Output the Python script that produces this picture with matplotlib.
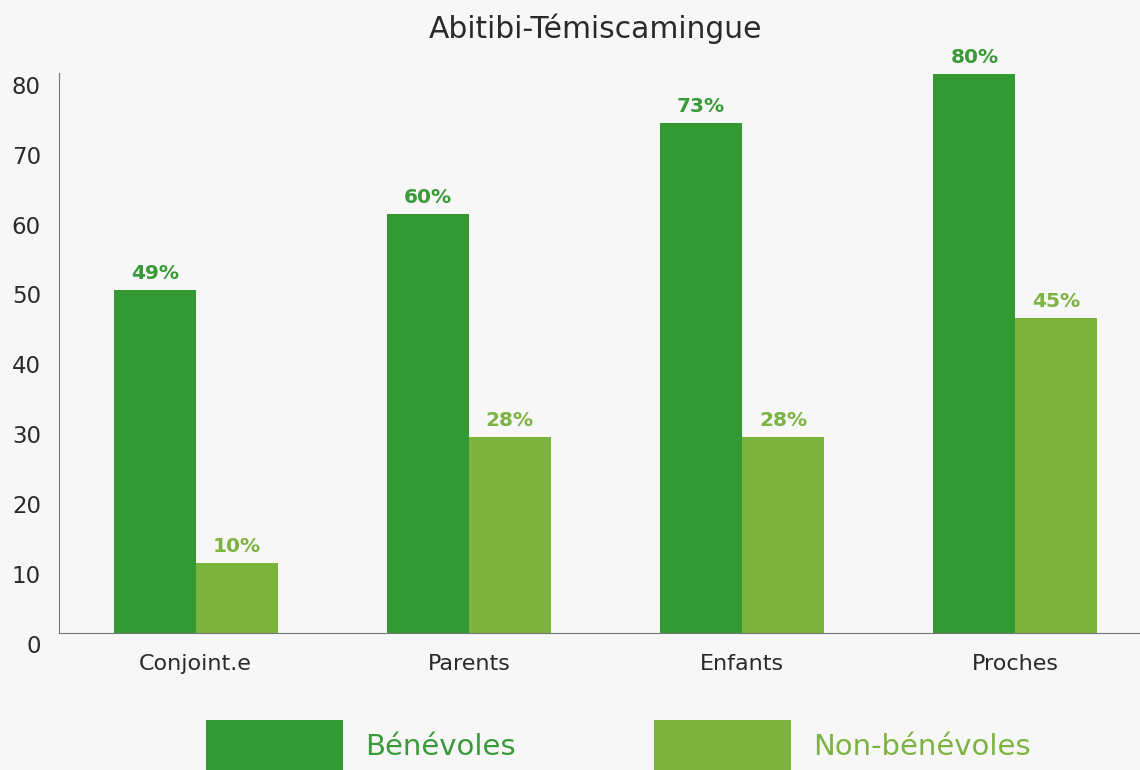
import matplotlib
matplotlib.use("Agg")
from matplotlib import pyplot as plt
from matplotlib.transforms import ScaledTranslation
import numpy as np

categories = ["Conjoint.e", "Parents", "Enfants", "Proches"]
benevoles = [49, 60, 73, 80]
non_benevoles = [10, 28, 28, 45]
series_names = ["Bénévoles", "Non-bénévoles"]
yticks = [0, 10, 20, 30, 40, 50, 60, 70, 80]

dark = "#339933"
light = "#7cb33d"
bg = "#f7f7f7"

plt.rcParams["font.family"] = ["DejaVu Sans"]

fig = plt.figure(figsize=(11.4, 7.7), dpi=100, facecolor=bg)
ax = fig.add_axes([59 / 1140, 137 / 770, 1093 / 1140, 560 / 770], facecolor=bg)

x = np.arange(len(categories))
w = 0.3
b1 = ax.bar(x - w / 2, benevoles, w, color=dark, label=series_names[0])
b2 = ax.bar(x + w / 2, non_benevoles, w, color=light, label=series_names[1])

# etiquettes de valeur au-dessus des barres
ax.bar_label(b1, labels=[f"{v}%" for v in benevoles], padding=5,
             color="#3a9a3a", fontsize=14.5, fontweight="bold")
ax.bar_label(b2, labels=[f"{v}%" for v in non_benevoles], padding=5,
             color="#7cb342", fontsize=14.5, fontweight="bold")

ax.set_xlim(-0.5, 3.5)
ax.set_ylim(0, 80.1)
ax.set_xticks(x)
ax.set_xticklabels(categories, fontsize=16, color="#2a2a2a")
ax.set_yticks(yticks)
ax.set_yticklabels([str(t) for t in yticks], fontsize=16.5, color="#2a2a2a")
ax.tick_params(axis="x", length=0, pad=15)
ax.tick_params(axis="y", length=0, pad=13)
shift = ScaledTranslation(0, -0.11, fig.dpi_scale_trans)
for lab in ax.get_yticklabels():
    lab.set_transform(lab.get_transform() + shift)

for s in ["top", "right"]:
    ax.spines[s].set_visible(False)
ax.spines["left"].set_color("#777777")
ax.spines["bottom"].set_color("#777777")

fig.text(596 / 1140, 1 - 29 / 770, "Abitibi-Témiscamingue", ha="center",
         va="center", fontsize=21.4, color="#2a2a2a")

leg = fig.legend(handles=[b1, b2], loc="upper left", ncol=2,
                 bbox_to_anchor=(180 / 1140, 1 - 694 / 770),
                 frameon=False, fontsize=21, handlelength=4.7,
                 handleheight=2.3, handletextpad=0.75, columnspacing=4.75)
for txt, c in zip(leg.get_texts(), ["#3a9a3a", "#7cb342"]):
    txt.set_color(c)

fig.savefig("out.png", dpi=100, facecolor=bg)
